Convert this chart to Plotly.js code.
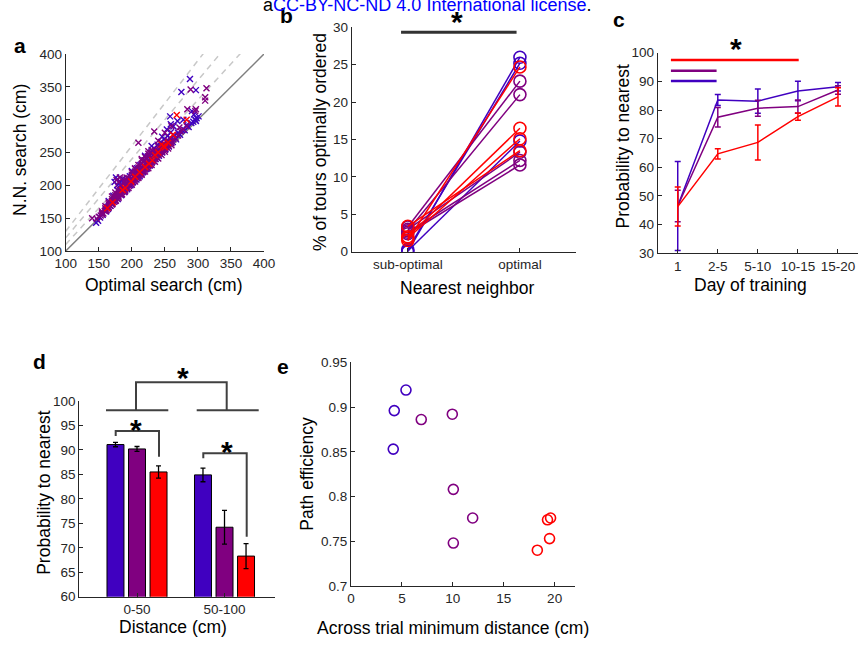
<!DOCTYPE html>
<html><head><meta charset="utf-8">
<script src="https://cdn.plot.ly/plotly-3.0.1.min.js"></script>
<style>html,body{margin:0;padding:0;background:#fff}#chart{width:858px;height:646px}</style>
</head><body><div id="chart"></div>
<script>
// ---------- Panel a: N.N. search vs optimal search (cm) ----------
const aBlueX = [146,149,152,156,161,164,167,170,172,175,177,179,182,184,187,189,191,193,195,198,199,202,204,207,209,212,213,217,218,222,223,227,228,231,233,236,238,241,243,246,248,251,253,256,258,262,264,267,270,273,276,280,283,286,290,293,296,298,301,297,291,294,288,275,297,258,259,269,246,253,263,278,186,200,230,220,
  165,172,178,183,188,192,197,203,208,213,219,224,229,234,239,244,249,254,259,183,178,176,174];
const aBlueY = [143,146,151,155,160,164,169,171,178,176,183,179,190,185,195,190,200,194,207,200,210,205,214,209,219,214,225,220,230,225,236,230,242,236,247,240,252,245,258,250,263,255,268,259,272,266,276,270,280,277,284,284,292,289,295,297,300,302,305,298,313,308,362,342,345,305,293,298,274,285,290,300,210,222,260,245,
  176,184,193,199,204,208,214,219,226,231,238,244,250,256,262,266,270,275,281,205,200,212,205];
const aPurpleX = [140,147,150,153,155,157,159,160,162,163,165,166,168,169,170,171,173,174,175,176,178,178,180,181,183,184,185,186,188,189,190,191,193,194,195,196,197,199,200,201,203,203,205,206,208,209,210,211,213,214,215,216,218,219,220,221,223,224,225,226,228,229,230,232,233,235,236,238,240,241,243,245,246,248,250,252,254,256,258,260,263,266,270,274,278,283,177,180,182,210,234,272,284,297,296,289,313,311,311,250,260,240,225,215,205,192,
  155,155,160,160,160,165,165,165,170,170,170,170,175,175,175,175,180,180,180,180,185,185,185,185,190,190,190,190,190,195,195,195,195,200,200,200,200,200,205,205,205,205,205,210,210,210,210,210,215,215,215,215,215,220,220,220,220,220,225,225,225,225,225,230,230,230,230,230,235,235,235,235,240,240,240,240,245,245,245,250,250,250,255,255,255,260,260];
const aPurpleY = [150,149,152,154,158,157,161,163,162,167,166,170,169,173,176,172,175,179,182,177,180,185,183,188,186,191,187,194,190,196,193,199,196,201,205,199,203,202,208,204,207,212,209,215,211,217,213,220,216,223,218,226,221,229,224,232,226,234,229,238,231,241,234,245,237,240,248,242,246,252,248,256,251,260,254,258,264,260,266,264,270,272,276,282,285,290,208,205,212,265,282,288,316,316,313,346,348,334,329,280,290,268,252,240,225,212,
  156,160,161,165,168,167,171,174,171,175,179,183,176,180,185,189,181,186,191,195,186,190,195,200,191,195,200,205,209,196,200,206,211,201,205,211,216,220,206,210,216,221,226,211,216,221,227,231,216,221,227,233,238,221,226,232,238,243,226,231,237,243,248,231,236,242,248,254,236,241,247,253,241,247,253,259,246,252,258,251,257,263,256,262,268,261,267];
const aRedX = [268,248,163,171,186,199,212,226,240,255,262,231,283,245,205,220,235,190,250];
const aRedY = [307,260,165,174,193,206,220,233,250,265,277,238,300,262,213,228,246,196,258];
const aRefSlopes = [1.1, 1.2, 1.3];   // dashed guide lines y = s*x
const aRange = [100, 400];

// ---------- Panel b: % of tours optimally ordered ----------
const bCats = ['sub-optimal', 'optimal'];
const bBlueSub = [0, 0.3, 0.1];
const bBlueOpt = [26, 25.2, 14.8];
const bPurpleSub = [3.3, 2.8, 3.0, 2.6, 2.4];
const bPurpleOpt = [22.8, 21, 13.3, 12.2, 11.6];
const bRedSub = [1.5, 2.0, 1.8, 3.4];
const bRedOpt = [24.7, 16.5, 15.1, 13.5];

// ---------- Panel c: probability to nearest vs day of training ----------
const cDays = ['1', '2-5', '5-10', '10-15', '15-20'];
const cBlue = [46.5, 83.5, 83.1, 86.6, 88.1];
const cBlueErr = [15.5, 1.9, 4.2, 3.4, 1.5];
const cPurple = [46.5, 77.5, 80.6, 81.2, 87.0];
const cPurpleErr = [5.5, 3.4, 2.8, 2.3, 1.5];
const cRed = [46.3, 64.7, 68.7, 77.7, 84.6];
const cRedErr = [6.8, 1.8, 6.1, 1.3, 3.2];

// ---------- Panel d: probability to nearest vs distance ----------
const dCats = ['0-50', '50-100'];
const dBlue = [91.1, 84.9];
const dBlueErr = [0.45, 1.4];
const dPurple = [90.2, 74.2];
const dPurpleErr = [0.5, 3.45];
const dRed = [85.5, 68.3];
const dRedErr = [1.25, 2.55];

// ---------- Panel e: path efficiency vs across trial minimum distance ----------
const eBlueX = [5.4, 4.25, 4.15];
const eBlueY = [0.919, 0.896, 0.853];
const ePurpleX = [6.9, 9.95, 10.05, 11.95, 10.05];
const ePurpleY = [0.886, 0.892, 0.808, 0.776, 0.748];
const eRedX = [19.3, 19.6, 19.5, 18.3];
const eRedY = [0.774, 0.776, 0.753, 0.740];
const eXTicks = [0, 5, 10, 15, 20];
const eYTicks = [0.7, 0.75, 0.8, 0.85, 0.9, 0.95];
const eYTickText = ['0.7', '0.75', '0.8', '0.85', '0.9', '0.95'];

// ---------- styling ----------
const BLUE = '#4000C0', PURPLE = '#800080', RED = '#FF0000';
const FONT = 'Liberation Sans, Arial, sans-serif';
const W = 858, H = 646;
const px = v => v / W, py = v => (H - v) / H;

function axis(domain, range, extra) {
  return Object.assign({
    domain: domain, range: range, showline: true, linecolor: '#262626', linewidth: 1,
    ticks: 'inside', ticklen: 4, tickcolor: '#262626', tickwidth: 1,
    showgrid: false, zeroline: false, fixedrange: true,
    tickfont: {family: FONT, size: 13.5, color: '#262626'}
  }, extra || {});
}

const traces = [];
// panel a guide lines
traces.push({x: aRange, y: aRange, xaxis: 'x', yaxis: 'y', mode: 'lines',
  line: {color: '#7f7f7f', width: 1.5}, hoverinfo: 'skip', showlegend: false});
aRefSlopes.forEach(s => traces.push({x: aRange, y: aRange.map(v => v * s), xaxis: 'x', yaxis: 'y',
  mode: 'lines', line: {color: '#c8c8c8', width: 1.5, dash: '6px,5px'}, hoverinfo: 'skip', showlegend: false}));
[[aBlueX, aBlueY, BLUE], [aPurpleX, aPurpleY, PURPLE], [aRedX, aRedY, RED]].forEach(([x, y, c]) =>
  traces.push({x: x, y: y, xaxis: 'x', yaxis: 'y', mode: 'markers', showlegend: false,
    marker: {symbol: 'x-thin', size: 6, color: c, line: {color: c, width: 1.4}}}));

// panel b lines
[[bBlueSub, bBlueOpt, BLUE], [bPurpleSub, bPurpleOpt, PURPLE], [bRedSub, bRedOpt, RED]].forEach(([s, o, c]) => {
  s.forEach((v, i) => traces.push({x: bCats, y: [v, o[i]], xaxis: 'x2', yaxis: 'y2', mode: 'lines+markers',
    showlegend: false, line: {color: c, width: 1.5},
    marker: {symbol: 'circle-open', size: 12, color: c, line: {width: 1.6, color: c}}}));
});

// panel c lines
[[cBlue, cBlueErr, BLUE], [cPurple, cPurpleErr, PURPLE], [cRed, cRedErr, RED]].forEach(([y, e, c]) =>
  traces.push({x: cDays, y: y, xaxis: 'x3', yaxis: 'y3', mode: 'lines', showlegend: false,
    line: {color: c, width: 1.5},
    error_y: {type: 'data', array: e, visible: true, color: c, thickness: 1.5, width: 3}}));

// panel d bars
const barW = 0.194, barPitch = 0.246;
[[dBlue, dBlueErr, BLUE], [dPurple, dPurpleErr, PURPLE], [dRed, dRedErr, RED]].forEach(([y, e, c], k) =>
  traces.push({type: 'bar', x: dCats, y: y, xaxis: 'x4', yaxis: 'y4', showlegend: false,
    width: barW, offset: (k - 1) * barPitch - barW / 2,
    marker: {color: c, line: {color: '#000', width: 1}},
    error_y: {type: 'data', array: e, visible: true, color: '#000', thickness: 1.3, width: 2.5}}));

// panel e points
[[eBlueX, eBlueY, BLUE], [ePurpleX, ePurpleY, PURPLE], [eRedX, eRedY, RED]].forEach(([x, y, c]) =>
  traces.push({x: x, y: y, xaxis: 'x5', yaxis: 'y5', mode: 'markers', showlegend: false,
    marker: {symbol: 'circle-open', size: 10, color: c, line: {width: 1.6, color: c}}}));

// ---------- annotations ----------
const ann = [];
function txt(text, x, y, opts) {
  ann.push(Object.assign({text: text, x: px(x), y: py(y), xref: 'paper', yref: 'paper',
    showarrow: false, xanchor: 'center', yanchor: 'middle',
    font: {family: FONT, size: 17.5, color: '#000'}}, opts || {}));
}
txt('N.N. search (cm)', 20, 150, {textangle: -90});
txt('Optimal search (cm)', 164, 285);
txt('% of tours optimally ordered', 320, 142, {textangle: -90});
txt('Nearest neighbor', 466.7, 287.5);
txt('Probability to nearest', 622.5, 146, {textangle: -90});
txt('Day of training', 750.8, 285);
txt('Probability to nearest', 43.3, 492.5, {textangle: -90});
txt('Distance (cm)', 172.5, 626.7);
txt('Path efficiency', 306.7, 474, {textangle: -90});
txt('Across trial minimum distance (cm)', 453, 627.5);
// panel letters
const bold = {font: {family: FONT, size: 21, color: '#000', weight: 'bold'}};
txt('<b>a</b>', 20, 45, bold);
txt('<b>b</b>', 286, 16, bold);
txt('<b>c</b>', 619, 19, bold);
txt('<b>d</b>', 39, 361, bold);
txt('<b>e</b>', 283, 366, bold);
// significance stars
const star = {font: {family: FONT, size: 30, color: '#000'}};
txt('<b>*</b>', 457, 22, star);
txt('<b>*</b>', 736, 49, star);
txt('<b>*</b>', 182.7, 377, star);
txt('<b>*</b>', 136, 429, star);
txt('<b>*</b>', 226.7, 451, star);
// header
txt('a<span style="color:#0000ff">CC-BY-NC-ND 4.0 International license</span>.', 261, 5.5,
  {xanchor: 'left', font: {family: FONT, size: 18, color: '#000'}});

// ---------- shapes ----------
const shapes = [];
shapes.push({type: 'line', xref: 'x2', yref: 'y2', x0: -0.06, x1: 0.97, y0: 29.33, y1: 29.33,
  line: {color: '#333', width: 3}});
shapes.push({type: 'line', xref: 'x3', yref: 'y3', x0: -0.17, x1: 3.02, y0: 97.45, y1: 97.45, line: {color: RED, width: 2.5}});
shapes.push({type: 'line', xref: 'x3', yref: 'y3', x0: -0.17, x1: 0.97, y0: 93.7, y1: 93.7, line: {color: PURPLE, width: 2.5}});
shapes.push({type: 'line', xref: 'x3', yref: 'y3', x0: -0.17, x1: 0.97, y0: 90.1, y1: 90.1, line: {color: BLUE, width: 2.5}});
function pathPx(pts) {
  return pts.map((p, i) => (i ? 'L' : 'M') + px(p[0]) + ',' + py(p[1])).join(' ');
}
const brk = {type: 'path', xref: 'paper', yref: 'paper', line: {color: '#404040', width: 2}};
shapes.push(Object.assign({path: pathPx([[136, 410.3], [136, 382.3], [226.7, 382.3], [226.7, 410.3]])}, brk));
shapes.push(Object.assign({path: pathPx([[106, 410.3], [168.3, 410.3]])}, brk));
shapes.push(Object.assign({path: pathPx([[196.7, 410.3], [258.7, 410.3]])}, brk));
shapes.push(Object.assign({path: pathPx([[115.7, 436], [115.7, 431], [159, 431], [159, 456.7]])}, brk));
shapes.push(Object.assign({path: pathPx([[203.3, 458.3], [203.3, 453.3], [246.7, 453.3], [246.7, 536.7]])}, brk));

const layout = {
  width: W, height: H, margin: {l: 0, r: 0, t: 0, b: 0},
  paper_bgcolor: '#fff', plot_bgcolor: 'rgba(0,0,0,0)', showlegend: false,
  font: {family: FONT},
  barmode: 'overlay',
  xaxis: axis([px(65.7), px(264)], [100, 400], {anchor: 'y', dtick: 50, tick0: 100}),
  yaxis: axis([py(251), py(54)], [100, 400], {anchor: 'x', dtick: 50, tick0: 100}),
  xaxis2: axis([px(351.7), px(576)], [-0.5, 1.5], {anchor: 'y2', type: 'category'}),
  yaxis2: axis([py(251.7), py(27.3)], [0, 30], {anchor: 'x2', dtick: 5}),
  xaxis3: axis([px(657.7), 1], [-0.5, 4.5], {anchor: 'y3', type: 'category'}),
  yaxis3: axis([py(253.3), py(52.7)], [30, 100], {anchor: 'x3', dtick: 10}),
  xaxis4: axis([px(79.3), px(275)], [-0.6594, 1.577], {anchor: 'y4', type: 'category'}),
  yaxis4: axis([py(596.7), py(401)], [60, 100], {anchor: 'x4', dtick: 5}),
  xaxis5: axis([px(351), px(575)], [0, 22], {anchor: 'y5', tickvals: eXTicks}),
  yaxis5: axis([py(586), py(362.3)], [0.7, 0.95], {anchor: 'x5', tickvals: eYTicks, ticktext: eYTickText}),
  annotations: ann, shapes: shapes
};
Plotly.newPlot('chart', traces, layout, {staticPlot: true, displayModeBar: false});
</script></body></html>
